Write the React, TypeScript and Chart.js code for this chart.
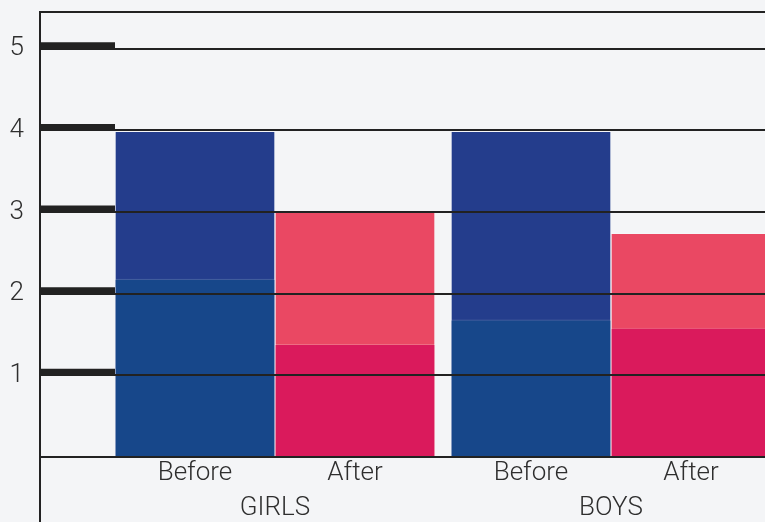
import React, { useEffect, useRef } from "react";
import { Chart, registerables } from "chart.js";

Chart.register(...registerables);

// ---- data ----
const barLabels = ["Before", "After", "Before", "After"];
const barPositions = [0.5, 1.5, 2.6, 3.6];
const groupLabels = ["GIRLS", "BOYS"];
const groupPositions = [1, 3.1];
const totalValues = [3.99, 3.0, 3.99, 2.74];
const lowerValues = [2.18, 1.38, 1.68, 1.58];
const yTickValues = [1, 2, 3, 4, 5];

// ---- style ----
const totalColors = ["#243d8c", "#ea4863", "#243d8c", "#ea4863"];
const lowerColors = ["#17478a", "#da1a5c", "#17478a", "#da1a5c"];
const INK = "#222222";
const TEXT = "#2e2e2e";
const FONT = { family: "Roboto, 'Liberation Sans', sans-serif", size: 26, weight: "300", lineHeight: 1 };
const X_MIN = -0.46875;
const X_MAX = 4.0625;
const Y_MAX = 5.45;

const framePlugin = {
  id: "frame",
  afterDraw(chart: any) {
    const { ctx, chartArea, scales } = chart;
    const x = scales.x;
    const y = scales.y;
    ctx.save();
    ctx.strokeStyle = INK;
    ctx.lineWidth = 2;
    ctx.beginPath();
    ctx.moveTo(chartArea.left, chartArea.top);
    ctx.lineTo(chartArea.right, chartArea.top);
    ctx.stroke();
    ctx.beginPath();
    ctx.moveTo(chartArea.left, chartArea.top - 1);
    ctx.lineTo(chartArea.left, chart.height);
    ctx.stroke();
    ctx.lineWidth = 7;
    const xEnd = x.getPixelForValue(barPositions[0] - 0.5);
    for (const v of yTickValues) {
      const py = y.getPixelForValue(v) - 3;
      ctx.beginPath();
      ctx.moveTo(chartArea.left, py);
      ctx.lineTo(xEnd, py);
      ctx.stroke();
    }
    ctx.restore();
  },
};

export default function App() {
  const ref = useRef<HTMLCanvasElement | null>(null);

  useEffect(() => {
    if (!ref.current) return;
    const chart = new Chart(ref.current, {
      type: "bar",
      data: {
        datasets: [
          {
            label: "Part",
            data: barPositions.map((x, i) => ({ x, y: lowerValues[i] })),
            backgroundColor: lowerColors,
            borderColor: "rgba(255,255,255,0.2)",
            borderWidth: 1,
            stack: "s",
            xAxisID: "x",
            yAxisID: "y",
          },
          {
            label: "Total",
            data: barPositions.map((x, i) => ({ x, y: totalValues[i] })),
            backgroundColor: totalColors,
            borderColor: "rgba(255,255,255,0.2)",
            borderWidth: 1,
            stack: "s",
            xAxisID: "x",
            yAxisID: "y",
          },
        ],
      } as any,
      options: {
        animation: false,
        responsive: true,
        maintainAspectRatio: false,
        devicePixelRatio: 1,
        layout: { padding: { top: 12, left: 0, right: 0, bottom: 0 } },
        datasets: { bar: { barPercentage: 1, categoryPercentage: 1 } } as any,
        plugins: { legend: { display: false }, tooltip: { enabled: false } },
        scales: {
          x: {
            type: "linear",
            position: "bottom",
            min: X_MIN,
            max: X_MAX,
            offset: false,
            weight: 0,
            afterBuildTicks: (s: any) => {
              s.ticks = barPositions.map((v) => ({ value: v }));
            },
            afterFit: (s: any) => {
              s.height = 32;
              s.paddingLeft = 0;
              s.paddingRight = 0;
            },
            grid: { display: false, drawTicks: false, offset: false },
            border: { display: true, color: INK, width: 2, z: 1 },
            ticks: {
              padding: 3,
              color: TEXT,
              font: FONT,
              autoSkip: false,
              maxRotation: 0,
              callback: (_v: any, i: number) => barLabels[i],
            },
          },
          x2: {
            type: "linear",
            position: "bottom",
            min: X_MIN,
            max: X_MAX,
            offset: false,
            weight: 1,
            afterBuildTicks: (s: any) => {
              s.ticks = groupPositions.map((v) => ({ value: v }));
            },
            afterFit: (s: any) => {
              s.height = 33;
              s.paddingLeft = 0;
              s.paddingRight = 0;
            },
            grid: { display: false, drawTicks: false },
            border: { display: false },
            ticks: {
              padding: 6,
              color: TEXT,
              font: FONT,
              autoSkip: false,
              maxRotation: 0,
              callback: (_v: any, i: number) => groupLabels[i],
            },
          },
          y: {
            type: "linear",
            min: 0,
            max: Y_MAX,
            stacked: false,
            afterBuildTicks: (s: any) => {
              s.ticks = yTickValues.map((v) => ({ value: v }));
            },
            afterFit: (s: any) => {
              s.width = 40;
              s.paddingTop = 0;
              s.paddingBottom = 0;
            },
            grid: { color: INK, lineWidth: 2, drawTicks: false, z: 1 },
            border: { display: false },
            ticks: {
              padding: 16,
              color: TEXT,
              font: FONT,
              callback: (v: any) => String(v),
            },
          },
        } as any,
      },
      plugins: [framePlugin],
    });
    return () => chart.destroy();
  }, []);

  return (
    <div
      style={{
        position: "fixed",
        left: 0,
        top: 0,
        width: 765,
        height: 522,
        background: "#f4f5f7",
      }}
    >
      <canvas ref={ref} />
    </div>
  );
}
